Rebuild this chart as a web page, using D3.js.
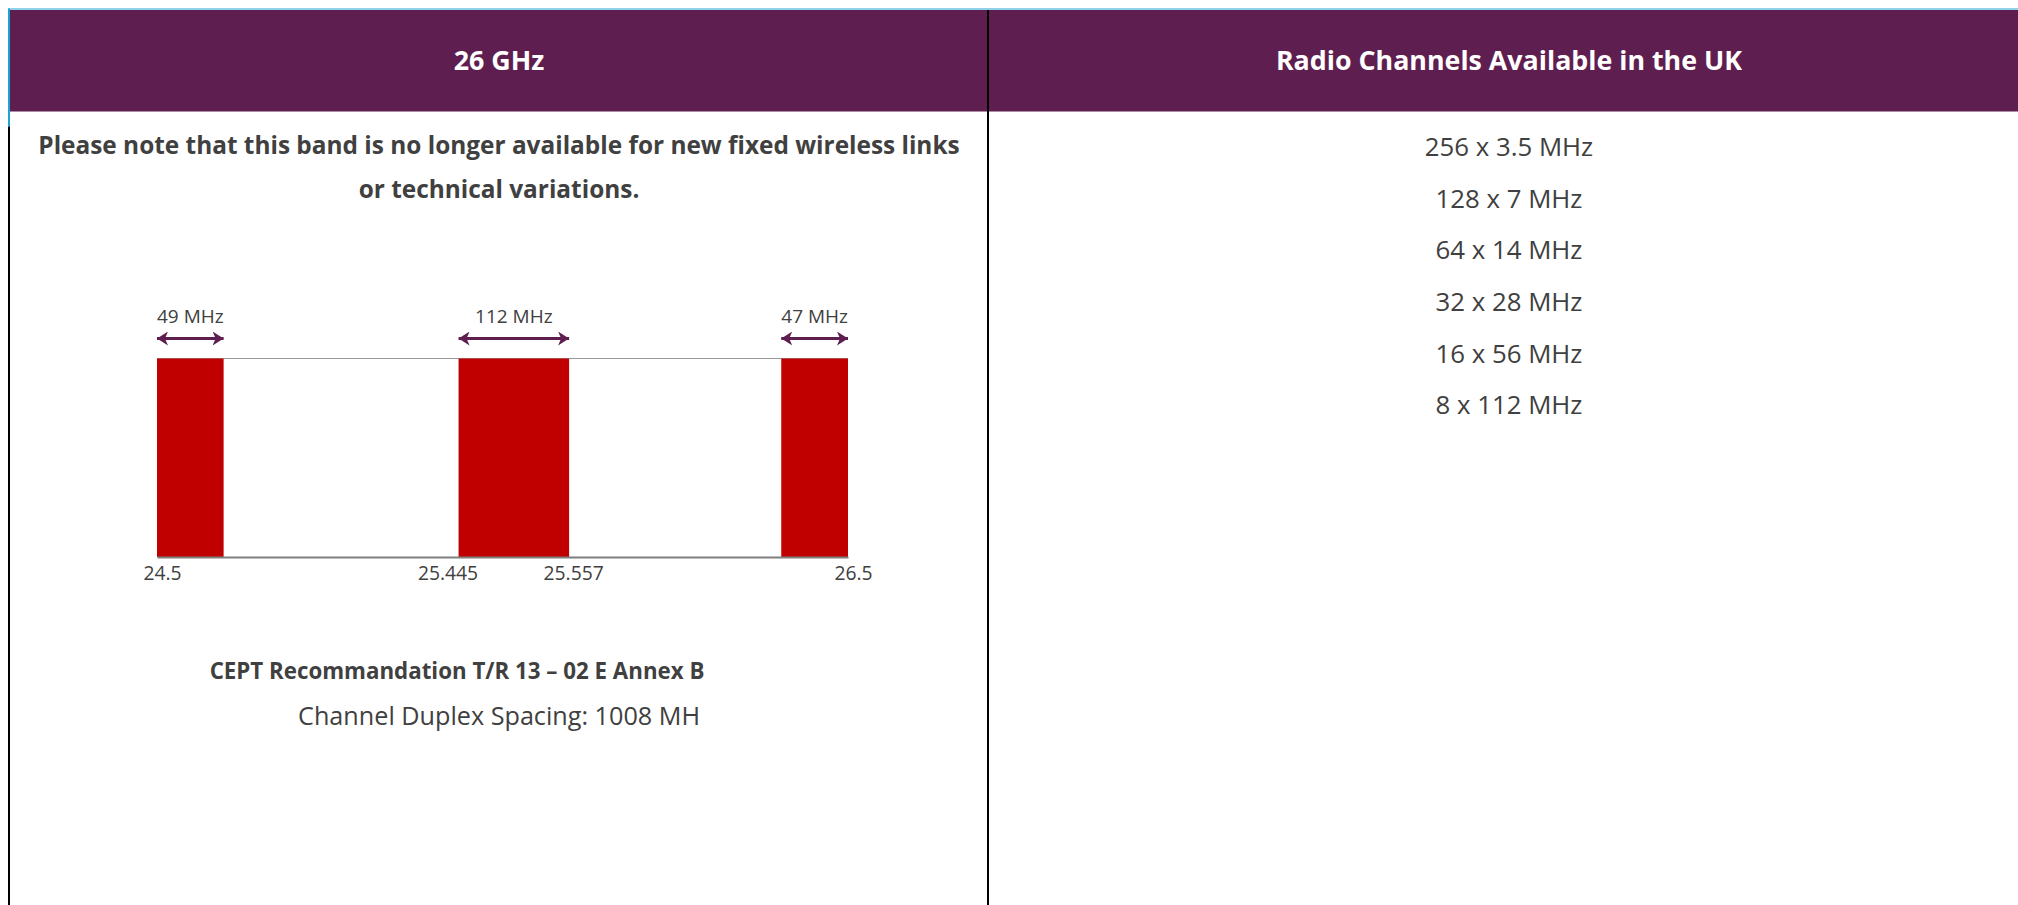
<!DOCTYPE html>
<html>
<head>
<meta charset="utf-8">
<script src="https://cdn.jsdelivr.net/npm/d3@7"></script>
<style>
  body { margin: 0; background: #fff; }
  svg { display: block; font-family: "Open Sans", sans-serif; }
</style>
</head>
<body>
<svg id="chart"></svg>
<script>
var width = 2018;
var height = 905;

// table text
var headers = ["26 GHz", "Radio Channels Available in the UK"];
var noteLines = ["Please note that this band is no longer available for new fixed wireless links",
                 "or technical variations."];
var recommendation = "CEPT Recommandation T/R 13 \u2013 02 E Annex B";
var duplexSpacing = "Channel Duplex Spacing: 1008 MH";
var channelPlans = ["256 x 3.5 MHz", "128 x 7 MHz", "64 x 14 MHz", "32 x 28 MHz", "16 x 56 MHz", "8 x 112 MHz"];

// band plan (GHz)
var blockStart = [24.5, 25.445, 26.453];
var blockEnd = [24.549, 25.557, 26.5];
var blockLabels = ["49 MHz", "112 MHz", "47 MHz"];
var tickValues = [24.5, 25.445, 25.557, 26.5];
var tickLabels = ["24.5", "25.445", "25.557", "26.5"];

var purple = "#5f1e50";
var textColor = "#404040";
var red = "#c00000";

var svg = d3.select("#chart")
    .attr("width", width)
    .attr("height", height);

// ---- table frame ----
var colSplit = 988;
svg.append("rect")
    .attr("x", 10).attr("y", 10)
    .attr("width", width - 10).attr("height", 101.5)
    .attr("fill", purple);
svg.append("rect")
    .attr("x", 8).attr("y", 8.5)
    .attr("width", width - 8).attr("height", 1)
    .attr("fill", "#1fa3d4");
svg.append("rect")
    .attr("x", 8).attr("y", 8.5)
    .attr("width", 2).attr("height", 118)
    .attr("fill", "#1fa3d4");
svg.append("rect")
    .attr("x", 8).attr("y", 126.5)
    .attr("width", 2).attr("height", height - 126.5)
    .attr("fill", "#000");
svg.append("rect")
    .attr("x", colSplit - 1).attr("y", 10)
    .attr("width", 2).attr("height", height - 10)
    .attr("fill", "#000");

var leftCenter = (10 + colSplit) / 2;
var rightCenter = (colSplit + width) / 2 + 6;

svg.selectAll(".header")
    .data(headers)
    .enter()
    .append("text")
    .attr("class", "header")
    .attr("x", function (d, i) { return i === 0 ? leftCenter : rightCenter; })
    .attr("y", 60)
    .attr("dy", "0.36em")
    .attr("text-anchor", "middle")
    .attr("fill", "#fff")
    .style("font-weight", "bold")
    .style("font-size", "26.8px")
    .text(function (d) { return d; });

svg.selectAll(".note")
    .data(noteLines)
    .enter()
    .append("text")
    .attr("class", "note")
    .attr("x", leftCenter)
    .attr("y", function (d, i) { return 145 + i * 44; })
    .attr("dy", "0.36em")
    .attr("text-anchor", "middle")
    .attr("fill", textColor)
    .style("font-weight", "bold")
    .style("font-size", "24.4px")
    .text(function (d) { return d; });

svg.selectAll(".plan")
    .data(channelPlans)
    .enter()
    .append("text")
    .attr("class", "plan")
    .attr("x", rightCenter)
    .attr("y", function (d, i) { return 147 + i * 51.6; })
    .attr("dy", "0.36em")
    .attr("text-anchor", "middle")
    .attr("fill", textColor)
    .style("font-size", "25.8px")
    .text(function (d) { return d; });

// the recommendation line sits a little left of the column centre in the original
svg.append("text")
    .attr("x", leftCenter - 42)
    .attr("y", 671)
    .attr("dy", "0.36em")
    .attr("text-anchor", "middle")
    .attr("fill", textColor)
    .style("font-weight", "bold")
    .style("font-size", "22.3px")
    .text(recommendation);

svg.append("text")
    .attr("x", leftCenter)
    .attr("y", 716)
    .attr("dy", "0.36em")
    .attr("text-anchor", "middle")
    .attr("fill", textColor)
    .style("font-size", "25.2px")
    .text(duplexSpacing);

// ---- band diagram ----
// schematic, not to scale: each segment of the band gets its own share of the width
var plotLeft = 157, plotWidth = 691;
var plotTop = 358.5, plotBottom = 557;
var segShare = [0.0964, 0.340, 0.160, 0.307, 0.0966];
var tickNudge = [5, -11, 4, 5];
var edges = [blockStart[0], blockEnd[0], blockStart[1], blockEnd[1], blockStart[2], blockEnd[2]];
var acc = 0;
var rangePts = [plotLeft];
segShare.forEach(function (s) {
    acc += s;
    rangePts.push(plotLeft + acc * plotWidth);
});
var x = d3.scaleLinear().domain(edges).range(rangePts);

var g = svg.append("g");

g.append("line")
    .attr("x1", x(edges[0])).attr("x2", x(edges[edges.length - 1]))
    .attr("y1", plotTop).attr("y2", plotTop)
    .attr("stroke", "#9a9a9a")
    .attr("stroke-width", 1);

g.selectAll(".block")
    .data(blockStart)
    .enter()
    .append("rect")
    .attr("class", "block")
    .attr("x", function (d) { return x(d); })
    .attr("y", plotTop)
    .attr("width", function (d, i) { return x(blockEnd[i]) - x(d); })
    .attr("height", plotBottom - plotTop)
    .attr("fill", red);

var axis = d3.axisBottom(x)
    .tickValues(tickValues)
    .tickFormat(function (d, i) { return tickLabels[i]; })
    .tickSize(0)
    .tickPadding(9);

var ax = g.append("g")
    .attr("transform", "translate(0," + plotBottom + ")")
    .call(axis);
ax.select(".domain").attr("stroke", "#7f7f7f").attr("stroke-width", 2);
ax.selectAll("text")
    .attr("fill", textColor)
    .attr("dx", function (d, i) { return tickNudge[i]; })
    .style("font-family", "'Open Sans', sans-serif")
    .style("font-size", "19.3px");

// double-headed dimension arrows
var defs = svg.append("defs");
defs.append("marker")
    .attr("id", "head")
    .attr("markerUnits", "userSpaceOnUse")
    .attr("viewBox", "0 0 11 14")
    .attr("refX", 11).attr("refY", 7)
    .attr("markerWidth", 11).attr("markerHeight", 14)
    .attr("orient", "auto-start-reverse")
    .append("path")
    .attr("d", "M0,0 L11,7 L0,14 L3,7 Z")
    .attr("fill", purple);

var arrowY = 338.5;
g.selectAll(".dim")
    .data(blockStart)
    .enter()
    .append("line")
    .attr("class", "dim")
    .attr("x1", function (d) { return x(d); })
    .attr("x2", function (d, i) { return x(blockEnd[i]); })
    .attr("y1", arrowY).attr("y2", arrowY)
    .attr("stroke", purple)
    .attr("stroke-width", 3)
    .attr("marker-start", "url(#head)")
    .attr("marker-end", "url(#head)");

g.selectAll(".dimLabel")
    .data(blockLabels)
    .enter()
    .append("text")
    .attr("class", "dimLabel")
    .attr("x", function (d, i) { return (x(blockStart[i]) + x(blockEnd[i])) / 2; })
    .attr("y", 316)
    .attr("dy", "0.36em")
    .attr("text-anchor", "middle")
    .attr("fill", textColor)
    .style("font-size", "19px")
    .text(function (d) { return d; });
</script>
</body>
</html>
